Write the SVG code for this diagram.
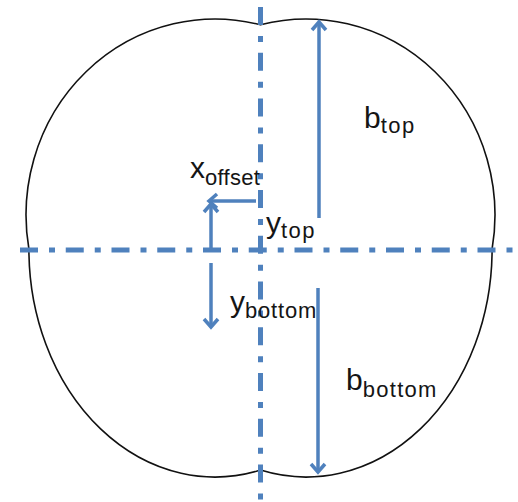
<svg xmlns="http://www.w3.org/2000/svg" width="518" height="502" viewBox="0 0 518 502">
<style>
.outline{fill:none;stroke:#111;stroke-width:1.6}
.axis{fill:none;stroke:#4f81bd;stroke-width:5;stroke-dasharray:18 11 6 10.75}
.arr{fill:none;stroke:#4f81bd;stroke-width:3.5;marker-end:url(#ah)}
.lbl{font-family:"Liberation Sans",Arial,sans-serif;font-size:30px;fill:#151515}
.sub{font-size:22px}
</style>
<defs>
<marker id="ah" viewBox="-10 -10 20 20" markerWidth="20" markerHeight="20" refX="0" refY="0" orient="auto" markerUnits="userSpaceOnUse">
<path d="M -8 -7 L 0 0 L -8 7" fill="none" stroke="#4f81bd" stroke-width="3.5" stroke-linejoin="miter"/>
</marker>
</defs>
<g id="shape">
<path class="outline" d="M 28.9 249 A 189 196 0 0 1 260.5 24.8 A 189 196 0 0 1 492.1 249 A 186 228 0 0 1 260.5 470.1 A 186 228 0 0 1 28.9 249 Z"/>
</g>
<g id="axes">
<line class="axis" x1="20" y1="250" x2="518" y2="250"/>
<line class="axis" x1="260.5" y1="7" x2="260.5" y2="502"/>
</g>
<g id="connectors">
<line class="arr" x1="319" y1="218" x2="319" y2="22"/>
<line class="arr" x1="318" y1="288" x2="318" y2="472"/>
<line class="arr" x1="256" y1="201" x2="209" y2="201"/>
<line class="arr" x1="211" y1="248" x2="211" y2="204"/>
<line class="arr" x1="211" y1="263" x2="211" y2="327"/>
</g>
<g id="label-btop"><text class="lbl" x="364" y="128">b<tspan class="sub" dy="5" letter-spacing="1.5">top</tspan></text></g>
<g id="label-bbottom"><text class="lbl" x="346" y="390">b<tspan class="sub" dy="7" letter-spacing="1.3">bottom</tspan></text></g>
<g id="label-xoffset"><text class="lbl" x="190" y="178">x<tspan class="sub" dy="7" font-size="21" letter-spacing="0.3">offset</tspan></text></g>
<g id="label-ytop"><text class="lbl" x="266" y="233">y<tspan class="sub" dy="5" letter-spacing="1.5">top</tspan></text></g>
<g id="label-ybottom"><text class="lbl" x="230" y="312">y<tspan class="sub" dy="6" letter-spacing="0.8">bottom</tspan></text></g>
</svg>
